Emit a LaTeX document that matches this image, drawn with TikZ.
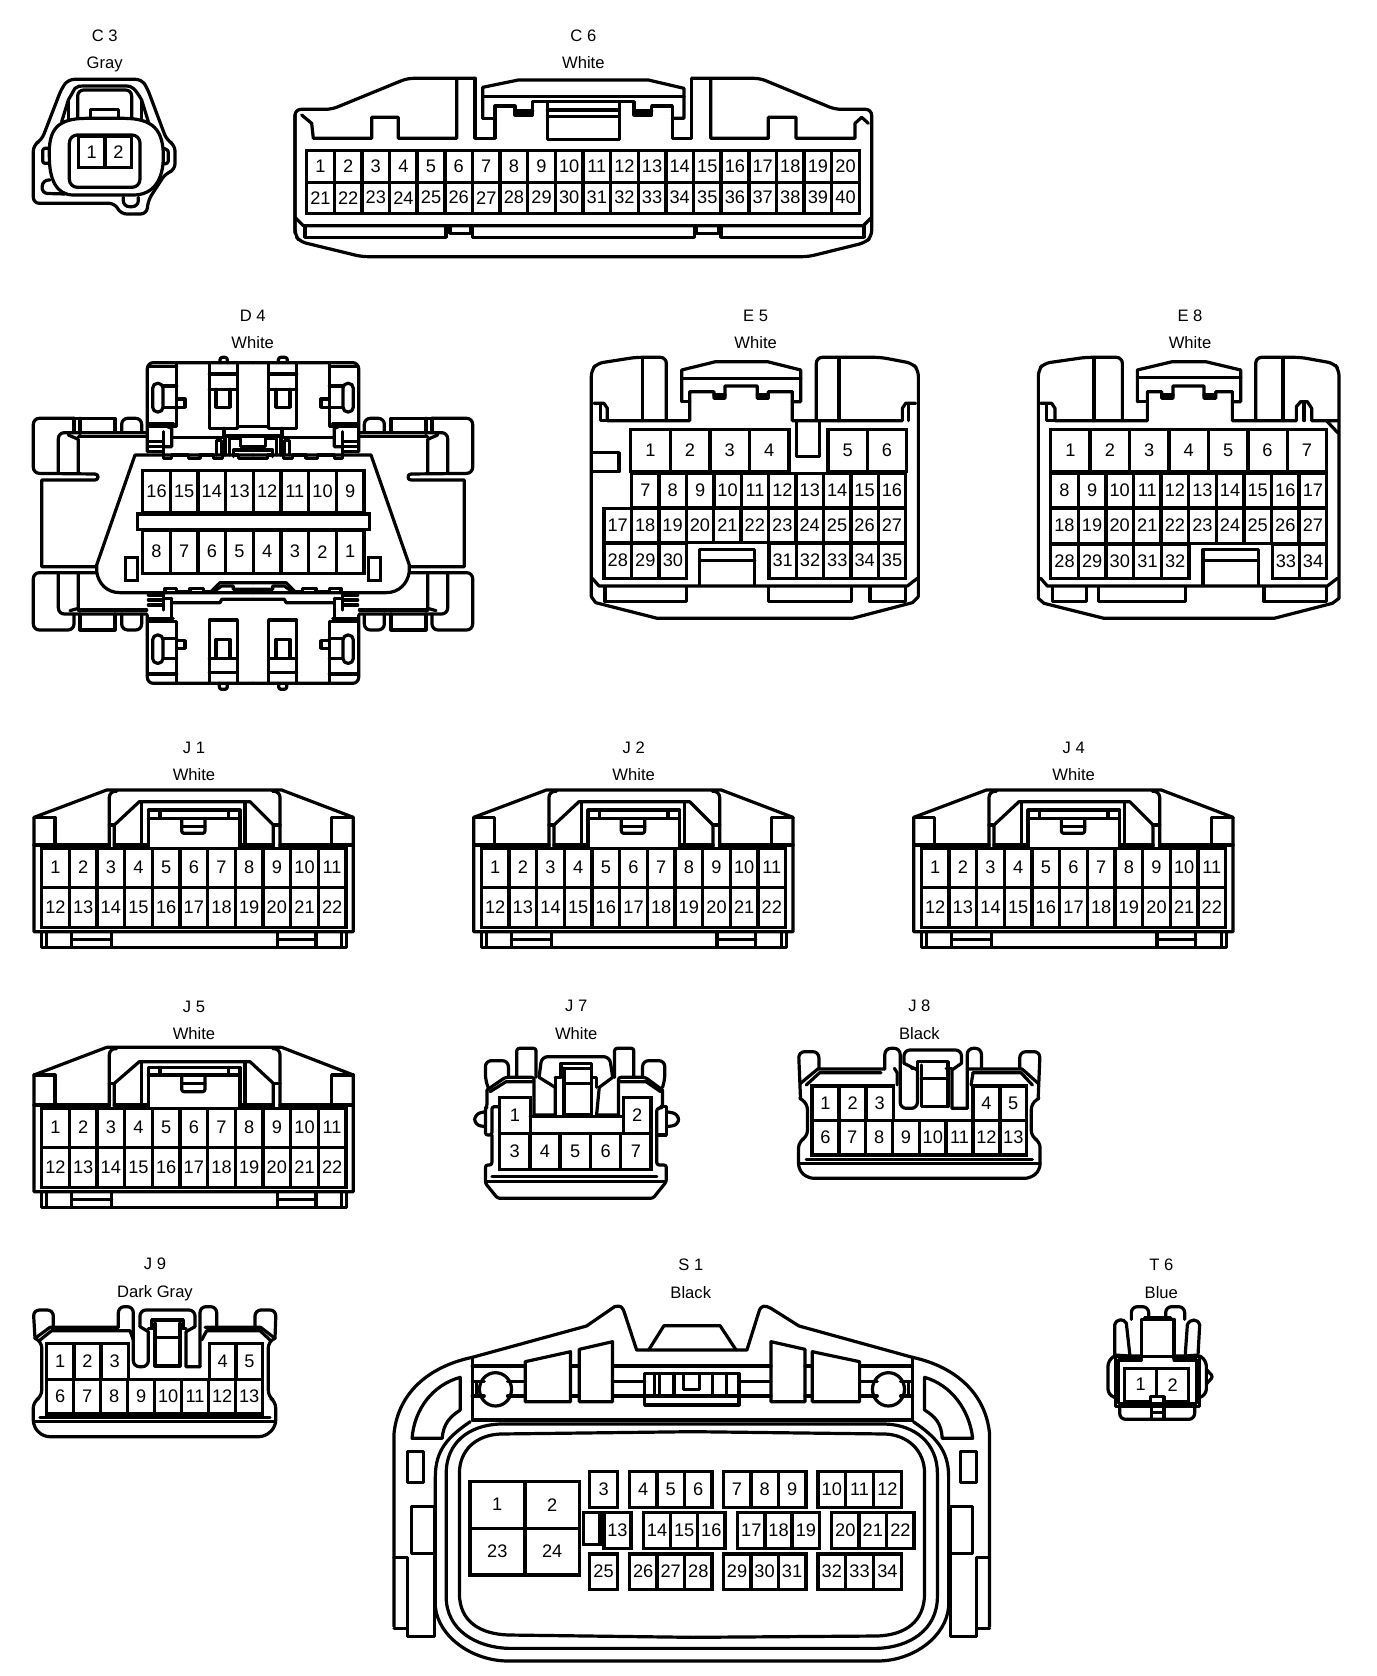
\documentclass[tikz,border=0pt]{standalone}
\usepackage{fontspec}
\setmainfont{Liberation Sans}
\usetikzlibrary{calc}
\tikzset{
 ln/.style={line width=1.6pt,line join=round,line cap=round},
 rc/.style={ln,rounded corners=1.2pt},
 rcb/.style={ln,rounded corners=3pt},
 pinbox/.style={draw,line width=1.75pt,line join=miter},
 pinlabel/.style={font=\fontsize{9.1}{10}\selectfont,inner sep=0pt},
 ctitle/.style={font=\fontsize{8.3}{10}\selectfont,inner sep=0pt,anchor=base},
}
% \pinrow{prefix}{x0}{x1}{y0}{y1}{labels}: evenly split row of cavities
\newcommand{\pinrow}[6]{%
  \def\tmpn{0}\foreach \l in {#6}{\pgfmathsetmacro{\tmpm}{int(\tmpn+1)}\global\let\tmpn\tmpm}%
  \pgfmathsetmacro{\cw}{(#3-#2)/\tmpn}%
  \foreach \l [count=\i from 0] in {#6}{%
    \draw[pinbox] ({#2+\i*\cw},#4) rectangle ({#2+(\i+1)*\cw},#5);
    \node[pinlabel] (#1-\l) at ({#2+(\i+.5)*\cw},{(#4+#5)/2-1}) {\l};
  }%
  \gdef\tmpn{0}%
}
\newcommand{\ctitles}[5]{%
  \node[ctitle] (#1-name) at (#2,{#3+17}) {#4};
  \node[ctitle] (#1-colour) at (#2,{#3+100}) {#5};
}
% bottom and pins shared by J1, J2, J4, J5: {name}{side y}{top y}
\newcommand{\jbase}[3]{%
  \draw[ln] (42,605)--(42,#2)--(260,#3)--(785,#3)--(1000,#2)--(1000,605)--cycle;
  \draw[ln] (42,#2)--(105,#2)--(105,345);
  \draw[ln] (1000,#2)--(935,#2)--(935,345);
  \draw[ln] (42,345)--(268,345);\draw[ln] (780,345)--(1000,345);
  \draw[ln] (65,605)--(65,652)--(980,652)--(980,605);
  \draw[ln] (80,605)--(80,650);\draw[ln] (965,605)--(965,650);
  \draw[ln] (155,605)--(155,650);\draw[ln] (275,605)--(275,650);\draw[ln] (155,628)--(275,628);
  \draw[ln] (772,605)--(772,650);\draw[ln] (888,605)--(888,650);\draw[ln] (772,628)--(888,628);
  \pinrow{#1}{65}{978}{355}{472}{1,2,3,4,5,6,7,8,9,10,11}
  \pinrow{#1}{65}{978}{472}{592}{12,13,14,15,16,17,18,19,20,21,22}
}
% latch of J1 etc: {top}{latch top}{latch bar}{box mid}{box bottom}{shoulder}
\newcommand{\jtop}[6]{%
  \draw[rcb] (268,350)--(268,{#1+4})--(290,{#1+4});
  \draw[rcb] (780,350)--(780,{#1+4})--(758,{#1+4});
  \draw[ln] (283,350)--(283,#6)--(358,215)--(690,215)--(760,#6)--(760,350);
  \draw[ln] (268,#6)--(283,#6);\draw[ln] (760,#6)--(780,#6);
  \draw[ln] (283,345)--(385,345);\draw[ln] (660,345)--(760,345);
  \draw[ln] (365,215)--(365,345);\draw[ln] (675,215)--(675,345);
  \draw[ln] (385,350)--(385,#2)--(660,#2)--(660,350);
  \draw[ln] (385,#3)--(660,#3);
  \draw[ln] (420,#2)--(420,#3);\draw[ln] (625,#2)--(625,#3);
  \draw[rc] (485,#3)--(485,#5)--(555,#5)--(555,#3);\draw[ln] (485,#4)--(555,#4);
}
% one half of D4 (mirrored for the other)
\newcommand{\dhalf}{%
  \draw[rcb] (442,455)--(442,188)--(759,188);
  \draw[ln] (530,192)--(530,380)--(445,380);
  \draw[ln] (445,200)--(530,200);
  \draw[ln] (445,372)--(520,372);
  \draw[ln] (490,258)--(530,258);\draw[ln] (490,322)--(530,322);
  \draw[ln,rounded corners=2.4pt] (458,250) rectangle (489,336);
  \draw[ln] (530,297)--(555,297)--(555,322)--(530,322);
  \draw[ln] (628,192)--(628,385)--(712,385)--(712,192);
  \draw[ln] (628,222)--(712,222);\draw[ln] (628,268)--(712,268);
  \draw[ln] (648,268)--(648,322)--(690,322)--(690,268);
  \draw[ln] (712,380)--(759,380);
  \draw[ln] (672,385)--(672,408)--(759,408);
  \draw[ln] (515,412)--(668,412);
  \draw[ln] (490,375)--(515,385)--(515,440)--(490,440);
  \draw[ln] (490,395)--(490,465);
  \draw[ln] (445,425)--(490,425);\draw[ln] (445,440)--(490,440);\draw[ln] (445,455)--(490,455);
  \draw[ln] (650,465)--(650,422)--(664,422)--(664,465);
  \draw[ln] (675,412)--(675,465);
  \draw[ln] (688,465)--(688,415)--(722,415)--(722,440)--(759,440);
  \draw[ln] (700,470)--(700,450)--(759,450);
  \draw[ln] (490,465)--(490,475)--(515,475)--(515,465)--(565,465)--(565,475)--(600,475)--(600,465)--(640,465)--(640,475)--(668,475)--(668,465);
  \draw[ln] (700,465)--(715,465)--(715,475)--(759,475);
  \draw[ln] (759,465)--(405,465)--(290,795)--(290,815) .. controls (295,850) and (320,878) .. (360,878)--(759,878);
  \draw[pinbox] (377,772) rectangle (412,842);
  % wings
  \draw[rcb] (222,355)--(100,355)--(100,520)--(285,522);
  \draw[ln] (285,522) .. controls (297,522) and (297,540) .. (285,540) -- (125,540)--(125,800)--(288,800);
  \draw[ln] (222,355)--(345,355)--(345,395);\draw[ln] (222,355)--(222,395);\draw[ln] (240,355)--(240,400);
  \draw[rcb] (365,397)--(365,355)--(425,355)--(425,397);
  \draw[rcb] (175,520)--(175,398)--(440,398);
  \draw[ln] (235,518)--(235,418)--(205,405);\draw[ln] (235,410)--(440,410);
  \draw[rcb] (290,818)--(100,818)--(100,990)--(222,990)--(222,942);
  \draw[ln] (240,942)--(240,990)--(345,990)--(345,942);
  \draw[rcb] (365,942)--(365,990)--(425,990)--(425,945);
  \draw[rcb] (175,822)--(175,942)--(440,942);
  \draw[ln] (235,822)--(235,925)--(210,932);\draw[ln] (235,930)--(440,930);
  % bottom block
  \draw[rcb] (442,945)--(442,1150)--(759,1150);
  \draw[ln] (530,1146)--(530,965)--(445,965);
  \draw[ln] (445,955)--(520,955);
  \draw[ln] (490,1015)--(530,1015);\draw[ln] (490,1075)--(530,1075);
  \draw[ln,rounded corners=2.4pt] (458,1005) rectangle (489,1090);
  \draw[ln] (530,1022)--(555,1022)--(555,1045)--(530,1045);
  \draw[ln] (445,1122)--(530,1122);
  \draw[ln] (628,1146)--(628,960)--(712,960)--(712,1146);
  \draw[ln] (628,1075)--(712,1075);\draw[ln] (628,1118)--(712,1118);
  \draw[ln] (648,1075)--(648,1018)--(690,1018)--(690,1075);
  \draw[rc] (658,1150)--(658,1168)--(682,1168)--(682,1150);
  % lower saw
  \draw[ln] (495,878)--(495,865)--(530,865)--(530,875)--(570,875)--(570,865)--(610,865)--(610,875)--(635,875);
  \draw[ln] (630,878)--(660,848)--(759,848);
  \draw[ln] (645,872)--(665,858)--(700,858)--(700,868)--(759,868);
  \draw[ln] (515,908)--(660,908)--(665,898)--(759,898);
  \draw[ln] (515,895)--(515,955);\draw[ln] (490,895)--(515,895);
  \draw[ln] (445,885)--(490,885);\draw[ln] (445,900)--(490,900);\draw[ln] (445,915)--(490,915);
  \draw[ln] (490,885)--(490,930);
}
\begin{document}
\begin{tikzpicture}[x=.1666667pt,y=-.1666667pt]
\useasboundingbox (0,0) rectangle (4128,5028);
\fill[white] (0,0) rectangle (4128,5028);
%% C3
\ctitles{C3}{314}{107}{C 3}{Gray}
\draw[rcb] (125,420)--(185,265)--(205,238)--(425,238)--(442,265)--(500,420)--(525,435)--(525,510)--(497,520)--(445,600)--(440,642)--(362,642)--(345,610)--(100,610)--(100,435)--cycle;
\draw[ln] (185,365)--(205,300)--(225,265) .. controls (232,258) and (240,258) .. (250,258) --(380,258) .. controls (395,258) and (405,265) .. (425,300)--(445,365);
\draw[ln] (205,300)--(205,360);\draw[ln] (425,300)--(425,360);
\draw[rcb] (233,355)--(233,270)--(395,270)--(395,355);
\draw[ln] (272,352)--(272,328)--(355,328)--(355,352);
\draw[ln] (148,470) .. controls (145,390) and (170,355) .. (260,355) -- (370,355) .. controls (460,355) and (490,390) .. (490,470) .. controls (490,540) and (460,585) .. (400,585) -- (220,585) .. controls (170,585) and (148,540) .. (148,470) -- cycle;
\draw[ln,rounded corners=4pt] (208,405)--(420,405)--(420,562)--(208,562)--cycle;
\pinrow{C3}{235}{395}{410}{503}{1,2}
\draw[rc] (145,445)--(128,445)--(128,490)--(145,490);
\draw[rc] (490,445)--(505,450)--(505,490)--(490,492);
\draw[rcb] (150,540)--(128,540)--(125,580)--(195,582);
\draw[rcb] (370,592)--(370,620)--(415,620)--(415,592);
%% C6
\ctitles{C6}{1750}{107}{C 6}{White}
\draw[rcb] (885,700)--(885,328)--(995,328)--(1222,235)--(1425,235);
\draw[ln] (1425,235)--(1425,415)--(1485,415)--(1485,350);
\draw[rcb] (885,345)--(885,705)--(900,725)--(1085,770)--(2425,770)--(2595,728)--(2615,710)--(2615,328)--(2505,328)--(2280,235)--(2075,235);
\draw[ln] (2075,235)--(2075,415)--(2017,415)--(2017,350);
\draw[ln] (905,345)--(935,370)--(940,415)--(1115,415)--(1115,352)--(1195,352)--(1195,415)--(1370,415)--(1370,240);
\draw[ln] (1448,355)--(1448,262)--(1555,240)--(1945,240)--(2052,265)--(2052,355)--(2017,355);
\draw[ln] (1448,355)--(1485,355);
\draw[ln] (1448,290)--(2052,290);
\draw[ln] (1485,318)--(1545,318)--(1545,345)--(1598,345)--(1598,305)--(1902,305)--(1902,345)--(1955,345)--(1955,318)--(2017,318)--(2017,355);
\draw[ln] (1485,350)--(1485,318);
\draw[ln] (1545,333)--(1598,333);\draw[ln] (1902,333)--(1955,333);
\draw[ln] (1642,310)--(1642,418)--(1858,418)--(1858,310);
\draw[ln] (1642,330)--(1858,330);\draw[ln] (1642,350)--(1858,350);
\draw[ln] (2132,240)--(2132,415)--(2305,415)--(2305,352)--(2388,352)--(2388,415)--(2565,415)--(2565,370)--(2585,352)--(2605,370);
\pinrow{C6}{920}{2578}{452}{548}{1,2,3,4,5,6,7,8,9,10,11,12,13,14,15,16,17,18,19,20}
\pinrow{C6}{920}{2578}{548}{640}{21,22,23,24,25,26,27,28,29,30,31,32,33,34,35,36,37,38,39,40}
\draw[ln] (888,655)--(910,677)--(2590,677)--(2612,655);
\draw[ln] (915,677)--(915,712)--(1338,712)--(1338,677);
\draw[ln] (1350,677)--(1350,700)--(1412,700)--(1412,677);
\draw[ln] (1418,677)--(1418,712)--(2083,712)--(2083,677);
\draw[ln] (2090,677)--(2090,700)--(2155,700)--(2155,677);
\draw[ln] (2163,677)--(2163,712)--(2592,712)--(2592,677);
%% D4
\begin{scope}[shift={(0,900)}]
\ctitles{D4}{758}{47}{D 4}{White}
\dhalf
\begin{scope}[shift={(1518,0)},xscale=-1]\dhalf\end{scope}
\draw[rc] (660,188)--(660,172)--(682,172)--(682,188);
\draw[rc] (835,188)--(835,172)--(862,172)--(862,188);
\pinrow{D4}{428}{1092}{512}{638}{16,15,14,13,12,11,10,9}
\pinrow{D4}{428}{1092}{692}{820}{8,7,6,5,4,3,2,1}
\draw[pinbox,fill=white] (412,642) rectangle (1108,688);
\end{scope}
%% E5
\begin{scope}[shift={(1737,900)}]
\ctitles{E5}{530}{47}{E 5}{White}
\draw[rcb] (37,890)--(37,210)--(55,190)--(170,172)--(262,172)--(262,362);
\draw[rcb] (1018,890)--(1018,210)--(1000,190)--(905,172)--(712,172)--(712,362);
\draw[ln] (37,890)--(50,908)--(235,955)--(820,955)--(1000,908)--(1018,890);
\draw[ln] (190,178)--(190,362);\draw[ln] (780,178)--(780,362);
\draw[ln] (45,310)--(75,310)--(85,325)--(85,362)--(332,362)--(332,275)--(405,275)--(405,295)--(438,295)--(438,258)--(535,258)--(535,295)--(568,295)--(568,275)--(640,275)--(640,362)--(970,362)--(970,325)--(980,310)--(1010,310);
\draw[ln] (65,312)--(65,362)--(85,362);\draw[ln] (988,312)--(988,362);
\draw[ln] (308,305)--(308,210)--(410,185)--(565,185)--(665,210)--(665,305)--(640,305);
\draw[ln] (308,305)--(332,305);\draw[ln] (308,235)--(665,235);
\draw[ln] (405,285)--(438,285);\draw[ln] (535,285)--(568,285);
\draw[ln] (652,362)--(652,470)--(722,470)--(722,365);
\draw[ln] (42,458)--(120,458)--(120,515)--(42,515);
\pinrow{E5}{155}{630}{388}{515}{1,2,3,4}
\pinrow{E5}{747}{983}{388}{515}{5,6}
\pinrow{E5}{158}{980}{520}{622}{7,8,9,10,11,12,13,14,15,16}
\pinrow{E5}{75}{980}{625}{728}{17,18,19,20,21,22,23,24,25,26,27}
\pinrow{E5}{75}{323}{730}{835}{28,29,30}
\pinrow{E5}{570}{980}{730}{835}{31,32,33,34,35}
\draw[ln] (362,855)--(362,748)--(527,748)--(527,855);\draw[ln] (362,782)--(527,782);
\draw[ln] (40,835)--(60,858)--(985,858)--(1015,835);
\draw[ln] (78,862)--(78,905)--(323,905)--(323,862);
\draw[ln] (568,862)--(568,905)--(817,905)--(817,862);
\draw[ln] (873,862)--(873,905)--(980,905)--(980,862);
\end{scope}
%% E8
\begin{scope}[shift={(3087,900)}]
\ctitles{E8}{483}{47}{E 8}{White}
\draw[rcb] (28,895)--(28,210)--(45,190)--(170,172)--(280,172)--(280,362);
\draw[rcb] (930,895)--(930,210)--(915,190)--(815,172)--(680,172)--(680,362);
\draw[ln] (28,895)--(45,910)--(225,955)--(735,955)--(910,910)--(930,895);
\draw[ln] (195,178)--(195,362);\draw[ln] (762,178)--(762,362);
\draw[ln] (35,310)--(68,310)--(78,325)--(78,362)--(355,362)--(355,275)--(398,275)--(398,295)--(432,295)--(432,258)--(525,258)--(525,295)--(560,295)--(560,275)--(610,275)--(610,362)--(802,362)--(802,320)--(815,305)--(835,305)--(848,325)--(848,362)--(925,362);
\draw[ln] (825,305)--(825,362);\draw[ln] (52,312)--(52,362)--(78,362);
\draw[ln] (325,305)--(325,210)--(430,185)--(530,185)--(635,210)--(635,305)--(610,305);
\draw[ln] (325,305)--(355,305);\draw[ln] (325,233)--(635,233);
\draw[ln] (398,285)--(432,285);\draw[ln] (525,285)--(560,285);
\draw[ln] (895,365)--(928,400);
\pinrow{E8}{65}{893}{388}{515}{1,2,3,4,5,6,7}
\pinrow{E8}{65}{893}{520}{622}{8,9,10,11,12,13,14,15,16,17}
\pinrow{E8}{65}{893}{625}{730}{18,19,20,21,22,23,24,25,26,27}
\pinrow{E8}{65}{480}{732}{835}{28,29,30,31,32}
\pinrow{E8}{730}{893}{732}{835}{33,34}
\draw[ln] (522,855)--(522,748)--(688,748)--(688,855);\draw[ln] (522,782)--(688,782);
\draw[ln] (35,835)--(55,858)--(895,858)--(925,835);
\draw[ln] (70,862)--(70,905)--(172,905)--(172,862);
\draw[ln] (208,862)--(208,905)--(470,905)--(470,862);
\draw[ln] (705,862)--(705,905)--(893,905)--(893,862);
\end{scope}
%% J1 J2 J4
\begin{scope}[shift={(60,2190)}]
\ctitles{J1}{522}{52}{J 1}{White}\jbase{J1}{262}{180}\jtop{180}{240}{265}{290}{310}{285}
\end{scope}
\begin{scope}[shift={(1379,2190)}]
\ctitles{J2}{522}{52}{J 2}{White}\jbase{J2}{262}{180}\jtop{180}{240}{265}{290}{310}{285}
\end{scope}
\begin{scope}[shift={(2699,2190)}]
\ctitles{J4}{522}{52}{J 4}{White}\jbase{J4}{262}{180}\jtop{180}{240}{265}{290}{310}{285}
\end{scope}
%% J5
\begin{scope}[shift={(60,2970)}]
\ctitles{J5}{522}{49}{J 5}{White}\jbase{J5}{255}{172}\jtop{172}{232}{255}{280}{305}{280}
\end{scope}
%% J7 J8 (x compressed in reading)
\begin{scope}[shift={(1378,3000)},xscale=1.15]
\ctitles{J7}{305}{18}{J 7}{White}
\draw[rcb] (75,262)--(68,240)--(68,182)--(128,182)--(128,232);
\draw[rcb] (530,262)--(536,240)--(536,182)--(478,182)--(478,232);
\draw[rc] (72,270)--(120,232)--(195,232)--(195,345);
\draw[rc] (530,270)--(485,232)--(415,232)--(415,345);
\draw[ln] (80,275)--(122,245)--(190,245);\draw[ln] (525,275)--(487,245)--(420,245);
\draw[rc] (150,232)--(150,145)--(200,145)--(200,232);
\draw[rc] (405,232)--(405,145)--(455,145)--(455,232);
\draw[rcb] (208,232)--(215,170)--(392,170)--(400,232);
\draw[ln] (400,232)--(365,262)--(358,345)--(415,345);
\draw[ln] (208,232)--(250,262)--(250,345)--(195,345);
\draw[ln] (250,232)--(265,232)--(265,190)--(345,190)--(345,232)--(358,232)--(358,262);
\draw[ln] (250,232)--(250,262);
\draw[ln] (273,205)--(273,345)--(345,345)--(345,205)--(273,205);\draw[ln] (273,250)--(345,250);
\draw[rc] (72,270)--(72,320)--(68,325)--(68,405)--(85,405)--(85,320)--(105,320);
\draw[rcb] (68,335)--(40,342)--(40,375)--(68,380);
\draw[rc] (530,270)--(530,320)--(525,325)--(515,325)--(515,495)--(540,495)--(540,545)--(505,595)--(100,595)--(68,550)--(68,495)--(85,495)--(85,405);
\draw[rcb] (540,335)--(572,342)--(572,375)--(540,380);\draw[ln] (525,320)--(540,320)--(540,405)--(515,405);
\draw[ln] (70,545)--(538,545);\draw[ln] (85,530)--(515,530);
\pinrow{J7}{105}{185}{293}{400}{1}
\pinrow{J7}{428}{500}{293}{400}{2}
\draw[ln] (185,350)--(428,350);
\pinrow{J7}{105}{500}{400}{508}{3,4,5,6,7}
\ctitles{J8}{1200}{18}{J 8}{Black}
\draw[rcb] (890,295)--(885,155)--(938,155)--(938,205);
\draw[rcb] (1510,295)--(1515,155)--(1462,155)--(1462,205);
\draw[ln] (890,250)--(935,207)--(1110,207);\draw[ln] (1510,250)--(1468,207)--(1325,207);
\draw[ln] (905,255)--(940,218)--(1100,218);\draw[ln] (1495,255)--(1465,218)--(1340,218);
\draw[rcb] (1110,207)--(1110,145)--(1150,145)--(1150,325)--(1195,325)--(1195,210);
\draw[ln] (1195,210)--(1160,190);
\draw[rcb] (1160,190)--(1160,150)--(1310,150)--(1310,190);
\draw[ln] (1310,190)--(1285,210)--(1285,325)--(1325,325);
\draw[rcb] (1325,325)--(1325,145)--(1362,145)--(1362,207);
\draw[ln] (1135,205)--(1142,218)--(1142,255);\draw[ln] (1340,218)--(1335,255);
\draw[ln] (1195,215)--(1195,185)--(1275,185)--(1275,215);
\draw[ln] (1205,195)--(1205,320)--(1275,320)--(1275,195);\draw[ln] (1205,235)--(1275,235);
\draw[ln] (1180,205)--(1195,205);\draw[ln] (1285,205)--(1270,205);
\draw[rcb] (888,295)--(908,310)--(908,410)--(885,425)--(885,510)--(910,535)--(1490,535)--(1515,510)--(1515,425)--(1492,410)--(1492,310)--(1512,295);
\draw[ln] (885,490)--(1515,490);\draw[ln] (905,478)--(1495,478);
\pinrow{J8}{920}{1132}{258}{362}{1,2,3}
\pinrow{J8}{1340}{1480}{258}{362}{4,5}
\pinrow{J8}{920}{1480}{362}{465}{6,7,8,9,10,11,12,13}
\end{scope}
%% J9
\begin{scope}[shift={(60,3780)}]
\ctitles{J9}{405}{12}{J 9}{Dark Gray}
\draw[rcb] (45,235)--(40,150)--(100,150)--(100,205);
\draw[rcb] (765,235)--(768,150)--(705,150)--(705,205);
\draw[ln] (45,235)--(90,202)--(295,202);\draw[ln] (765,235)--(722,202)--(555,202);
\draw[ln] (60,240)--(95,212)--(330,212);\draw[ln] (750,240)--(720,212)--(560,212);
\draw[rcb] (295,202)--(295,140)--(340,140)--(340,320)--(385,320)--(385,215);
\draw[ln] (385,215)--(360,200);
\draw[rcb] (360,200)--(360,150)--(525,150)--(525,200);
\draw[ln] (525,200)--(498,215)--(498,320)--(540,320);
\draw[rcb] (540,320)--(540,140)--(590,140)--(590,202);
\draw[ln] (395,205)--(395,180)--(490,180)--(490,205);
\draw[ln] (405,190)--(405,318)--(480,318)--(480,190);\draw[ln] (405,232)--(480,232);
\draw[ln] (385,205)--(405,205);\draw[ln] (480,205)--(498,205);
\draw[ln] (330,212)--(340,240);\draw[ln] (560,212)--(545,240);
\draw[rcb] (45,235)--(65,245)--(65,410)--(40,425)--(40,500)--(70,530)--(735,530)--(767,500)--(767,425)--(745,410)--(745,245)--(765,235);
\draw[ln] (45,485)--(765,485);\draw[ln] (60,472)--(750,472);
\pinrow{J9}{80}{325}{250}{358}{1,2,3}
\pinrow{J9}{568}{728}{250}{358}{4,5}
\pinrow{J9}{80}{728}{358}{462}{6,7,8,9,10,11,12,13}
\end{scope}
%% S1
\begin{scope}[shift={(1140,3780)},xscale=1.203]
\ctitles{S1}{775}{15}{S 1}{Black}
\draw[ln] (35,1100)--(35,520)..controls (45,400) and (120,320) .. (230,292);
\draw[ln] (1520,1100)--(1520,520)..controls (1510,400) and (1435,320) .. (1328,292);
\draw[ln] (230,292)--(515,198)--(585,140) .. controls (600,135) and (605,140) .. (610,160)--(640,270)--(915,270)--(945,155) .. controls (950,135) and (960,135) .. (975,145)--(1045,198)--(1328,292);
\draw[ln] (670,270)--(708,197)--(848,197)--(888,270);
\draw[ln] (230,292)--(230,480)--(1328,480)--(1328,292);
\draw[ln] (230,318)--(362,318);\draw[ln] (230,365)--(260,365);\draw[ln] (230,408)--(260,408);
\draw[ln] (318,365)--(362,365);\draw[ln] (318,408)--(362,408);
\draw[ln] (240,365)--(240,408);\draw[ln] (1318,365)--(1318,408);
\draw[ln] (1198,318)--(1328,318);\draw[ln] (1198,365)--(1240,365);\draw[ln] (1198,408)--(1240,408);
\draw[ln] (1298,365)--(1328,365);\draw[ln] (1298,408)--(1328,408);
\draw[ln] (288,388) ellipse (40 and 50);
\draw[ln] (1268,388) ellipse (40 and 50);
\draw[ln] (362,305)--(475,275)--(475,425)--(362,425)--cycle;
\draw[ln] (497,268)--(580,245)--(580,425)--(497,425)--cycle;
\draw[ln] (975,245)--(1060,268)--(1060,425)--(975,425)--cycle;
\draw[ln] (1078,275)--(1196,305)--(1196,425)--(1078,425)--cycle;
\draw[ln] (475,318)--(497,318);\draw[ln] (475,408)--(497,408);\draw[ln] (1060,318)--(1078,318);\draw[ln] (1060,408)--(1078,408);
\draw[ln] (580,318)--(975,318);\draw[ln] (580,365)--(660,365);\draw[ln] (895,365)--(975,365);\draw[ln] (580,408)--(660,408);\draw[ln] (895,408)--(975,408);
\draw[ln] (660,340) rectangle (895,435);
\draw[ln] (660,408)--(895,408);
\foreach \xx in {685,697,733,830,865}{\draw[ln] (\xx,340)--(\xx,408);}
\draw[ln] (757,345)--(757,388)--(797,388)--(797,345);
\draw[ln] (80,535)..controls (85,450) and (130,375) .. (200,352)--(200,450)..controls (175,470) and (158,490) .. (155,535)--cycle;
\draw[ln] (1478,535)..controls (1470,450) and (1425,375) .. (1358,352)--(1358,450)..controls (1385,470) and (1400,490) .. (1402,535)--cycle;
\draw[ln] (68,575) rectangle (108,668);
\draw[ln] (1448,575) rectangle (1488,668);
\draw[ln] (78,740) rectangle (135,880);
\draw[ln] (1422,740) rectangle (1478,880);
\draw[ln] (35,892)--(68,892)--(68,1130)--(135,1130)--(135,880);
\draw[ln] (1520,892)--(1488,892)--(1488,1130)--(1422,1130)--(1422,880);
\draw[ln] (35,1105)--(68,1105);\draw[ln] (1520,1105)--(1488,1105);
% three rings round the cavity face
\draw[ln] (225,485) .. controls (170,530) and (138,570) .. (138,650) -- (138,1040) .. controls (145,1130) and (230,1203) .. (320,1203) -- (1240,1203) .. controls (1330,1203) and (1412,1130) .. (1418,1040) -- (1418,650) .. controls (1418,570) and (1385,530) .. (1330,485);
\draw[ln] (165,640) .. controls (165,550) and (220,495) .. (300,492) -- (1260,492) .. controls (1335,495) and (1390,550) .. (1390,640) -- (1390,1010) .. controls (1390,1110) and (1320,1162) .. (1240,1165) -- (320,1165) .. controls (240,1162) and (165,1110) .. (165,1010) -- cycle;
\draw[ln] (198,640) .. controls (198,570) and (240,525) .. (300,522) -- (780,515) -- (1260,522) .. controls (1315,525) and (1358,570) .. (1358,640) -- (1358,1000) .. controls (1358,1085) and (1310,1125) .. (1240,1128) -- (780,1132) -- (320,1125) .. controls (250,1122) and (198,1085) .. (198,1000) -- cycle;
\pinrow{S1}{224}{498}{665}{805}{1,2}
\pinrow{S1}{224}{498}{805}{945}{23,24}
\pinrow{S1}{523}{592}{635}{742}{3}
\pinrow{S1}{622}{828}{635}{742}{4,5,6}
\pinrow{S1}{856}{1062}{635}{742}{7,8,9}
\pinrow{S1}{1092}{1300}{635}{742}{10,11,12}
\draw[pinbox] (508,758) rectangle (548,853);
\pinrow{S1}{558}{626}{758}{865}{13}
\pinrow{S1}{657}{860}{758}{865}{14,15,16}
\pinrow{S1}{892}{1096}{758}{865}{17,18,19}
\pinrow{S1}{1126}{1332}{758}{865}{20,21,22}
\pinrow{S1}{523}{592}{882}{988}{25}
\pinrow{S1}{622}{828}{882}{988}{26,27,28}
\pinrow{S1}{856}{1062}{882}{988}{29,30,31}
\pinrow{S1}{1092}{1300}{882}{988}{32,33,34}
\end{scope}
%% T6
\begin{scope}[shift={(3294,3780)}]
\ctitles{T6}{190}{15}{T 6}{Blue}
\draw[rcb] (100,178)--(100,140)--(152,140)--(152,172);
\draw[rcb] (260,178)--(260,140)--(203,140)--(203,172);
\draw[ln] (130,178)--(228,178);\draw[ln] (140,172)--(218,172);
\draw[ln] (130,178)--(130,295);\draw[ln] (228,178)--(228,295);
\draw[ln] (95,288)--(95,280)--(85,190) .. controls (78,175) and (55,175) .. (50,195)--(50,285)--(95,288)--(130,288);
\draw[ln] (262,288)--(262,280)--(268,195) .. controls (275,175) and (300,175) .. (305,195)--(300,285)--(262,288)--(228,288);
\draw[rcb] (50,288)--(30,300)--(30,405)--(50,412);
\draw[rcb] (305,288)--(325,300)--(325,405)--(305,412);
\draw[ln] (52,290)--(52,440)--(305,440)--(305,290)--cycle;
\draw[ln] (62,300)--(62,430)--(295,430)--(295,300);\draw[ln] (130,300)--(62,300);\draw[ln] (228,300)--(295,300);
\pinrow{T6}{80}{272}{325}{425}{1,2}
\draw[ln,fill=white] (158,410) rectangle (198,430);
\draw[rcb] (65,440)--(65,478)--(290,478)--(290,440);
\draw[ln] (160,440)--(160,478);\draw[ln] (198,440)--(198,478);\draw[ln] (160,458)--(198,458);
\draw[rc] (325,328)--(345,350)--(325,372);
\end{scope}
\end{tikzpicture}
\end{document}
